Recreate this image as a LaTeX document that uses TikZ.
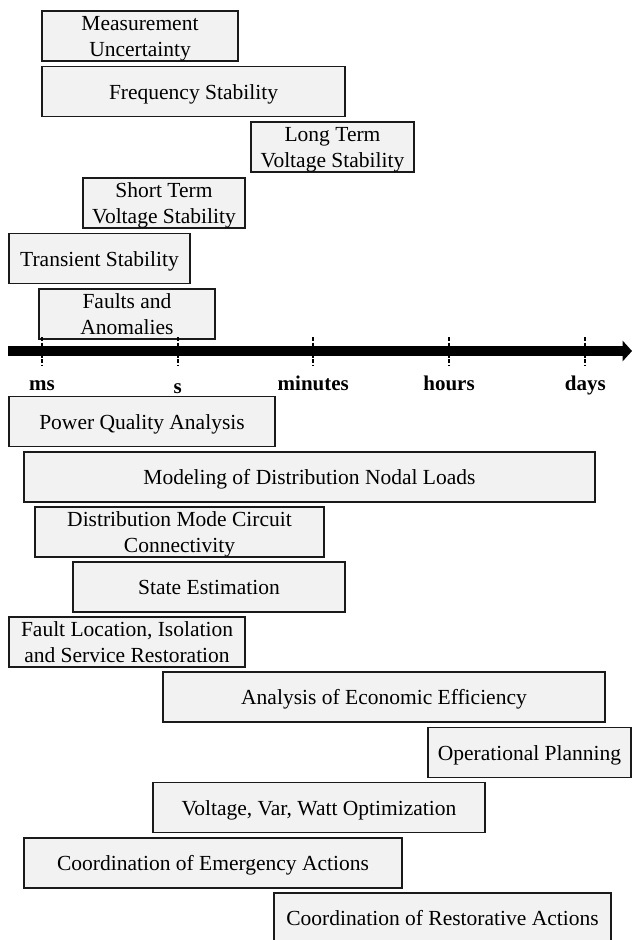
\documentclass[tikz,border=0pt]{standalone}
\usepackage{fontspec}
\setmainfont{Liberation Serif}

\definecolor{boxfill}{HTML}{F2F2F2}
\definecolor{boxline}{HTML}{1A1A1A}

% two stacked lines, baseline on the last one
\newcommand{\twolines}[2]{\begin{tabular}[b]{@{}c@{}}#1\\#2\end{tabular}}

\begin{document}
\begin{tikzpicture}[x=1pt,y=-1pt,
  task/.style={draw=boxline, fill=boxfill, line width=1.6pt, inner sep=0pt,
    minimum height=50pt, text=black,
    font=\fontsize{21.5}{25.5}\selectfont, text height=15pt, text depth=0pt},
  tasktwo/.style={task, text height=40pt},
  ticktime/.style={line width=1.8pt, dash pattern=on 4pt off 1.5pt},
  scalelbl/.style={anchor=base, inner sep=0pt, font=\fontsize{21}{25}\bfseries\selectfont}]

\useasboundingbox (0,0) rectangle (632,940);
\clip (0,0) rectangle (632,940);

% fast phenomena above the time axis
\node[tasktwo, minimum width=196pt] (meas)   at (140,36)    {\twolines{Measurement}{Uncertainty}};
\node[task,    minimum width=303pt] (freq)   at (193.5,91.5){Frequency Stability};
\node[tasktwo, minimum width=163pt] (ltvs)   at (332.5,147) {\twolines{Long Term}{Voltage Stability}};
\node[tasktwo, minimum width=162pt] (stvs)   at (164,203)   {\twolines{Short Term}{Voltage Stability}};
\node[task,    minimum width=181pt] (trans)  at (99.5,258.5){Transient Stability};
\node[tasktwo, minimum width=176pt] (faults) at (127,314)   {\twolines{Faults and}{Anomalies}};

% time axis
\coordinate (axstart) at (8,351);
\coordinate (axbase)  at (624,351);
\coordinate (axtip)   at (632,351);
\draw[line width=10pt] (axstart) -- (axbase);
\fill (622.5,340.5) -- (axtip) -- (622.5,361.5) -- cycle;

\foreach \nm/\xx in {ms/42, s/177.7, minutes/313.3, hours/449, days/585.3}{
  \coordinate (tick-\nm) at (\xx,337);
  \coordinate (tickend-\nm) at (\xx,365);
  \draw[ticktime] (tick-\nm) -- (tickend-\nm);
}
\node[scalelbl] (lbl-ms)      at (42,390)    {ms};
\node[scalelbl] (lbl-s)       at (177.7,393) {s};
\node[scalelbl] (lbl-minutes) at (313.3,390) {minutes};
\node[scalelbl] (lbl-hours)   at (449,390)   {hours};
\node[scalelbl] (lbl-days)    at (585.3,390) {days};

% applications below the time axis
\node[task,    minimum width=266pt] (pqa)   at (142,421.5) {Power Quality Analysis};
\node[task,    minimum width=571pt] (model) at (309.5,477) {Modeling of Distribution Nodal Loads};
\node[tasktwo, minimum width=289pt] (dmcc)  at (179.5,532) {\twolines{Distribution Mode Circuit}{Connectivity}};
\node[task,    minimum width=272pt] (se)    at (209,587)   {State Estimation};
\node[tasktwo, minimum width=236pt] (flisr) at (127,642)   {\twolines{Fault Location, Isolation}{and Service Restoration}};
\node[task,    minimum width=442pt] (aee)   at (384,697)   {Analysis of Economic Efficiency};
\node[task,    minimum width=203pt] (op)    at (529.5,752.5){Operational Planning};
\node[task,    minimum width=332pt] (vvw)   at (319,807.5) {Voltage, Var, Watt Optimization};
\node[task,    minimum width=378pt] (cea)   at (213,863)   {Coordination of Emergency Actions};
\node[task,    minimum width=337pt] (cra)   at (442.5,918) {Coordination of Restorative Actions};

\end{tikzpicture}
\end{document}
